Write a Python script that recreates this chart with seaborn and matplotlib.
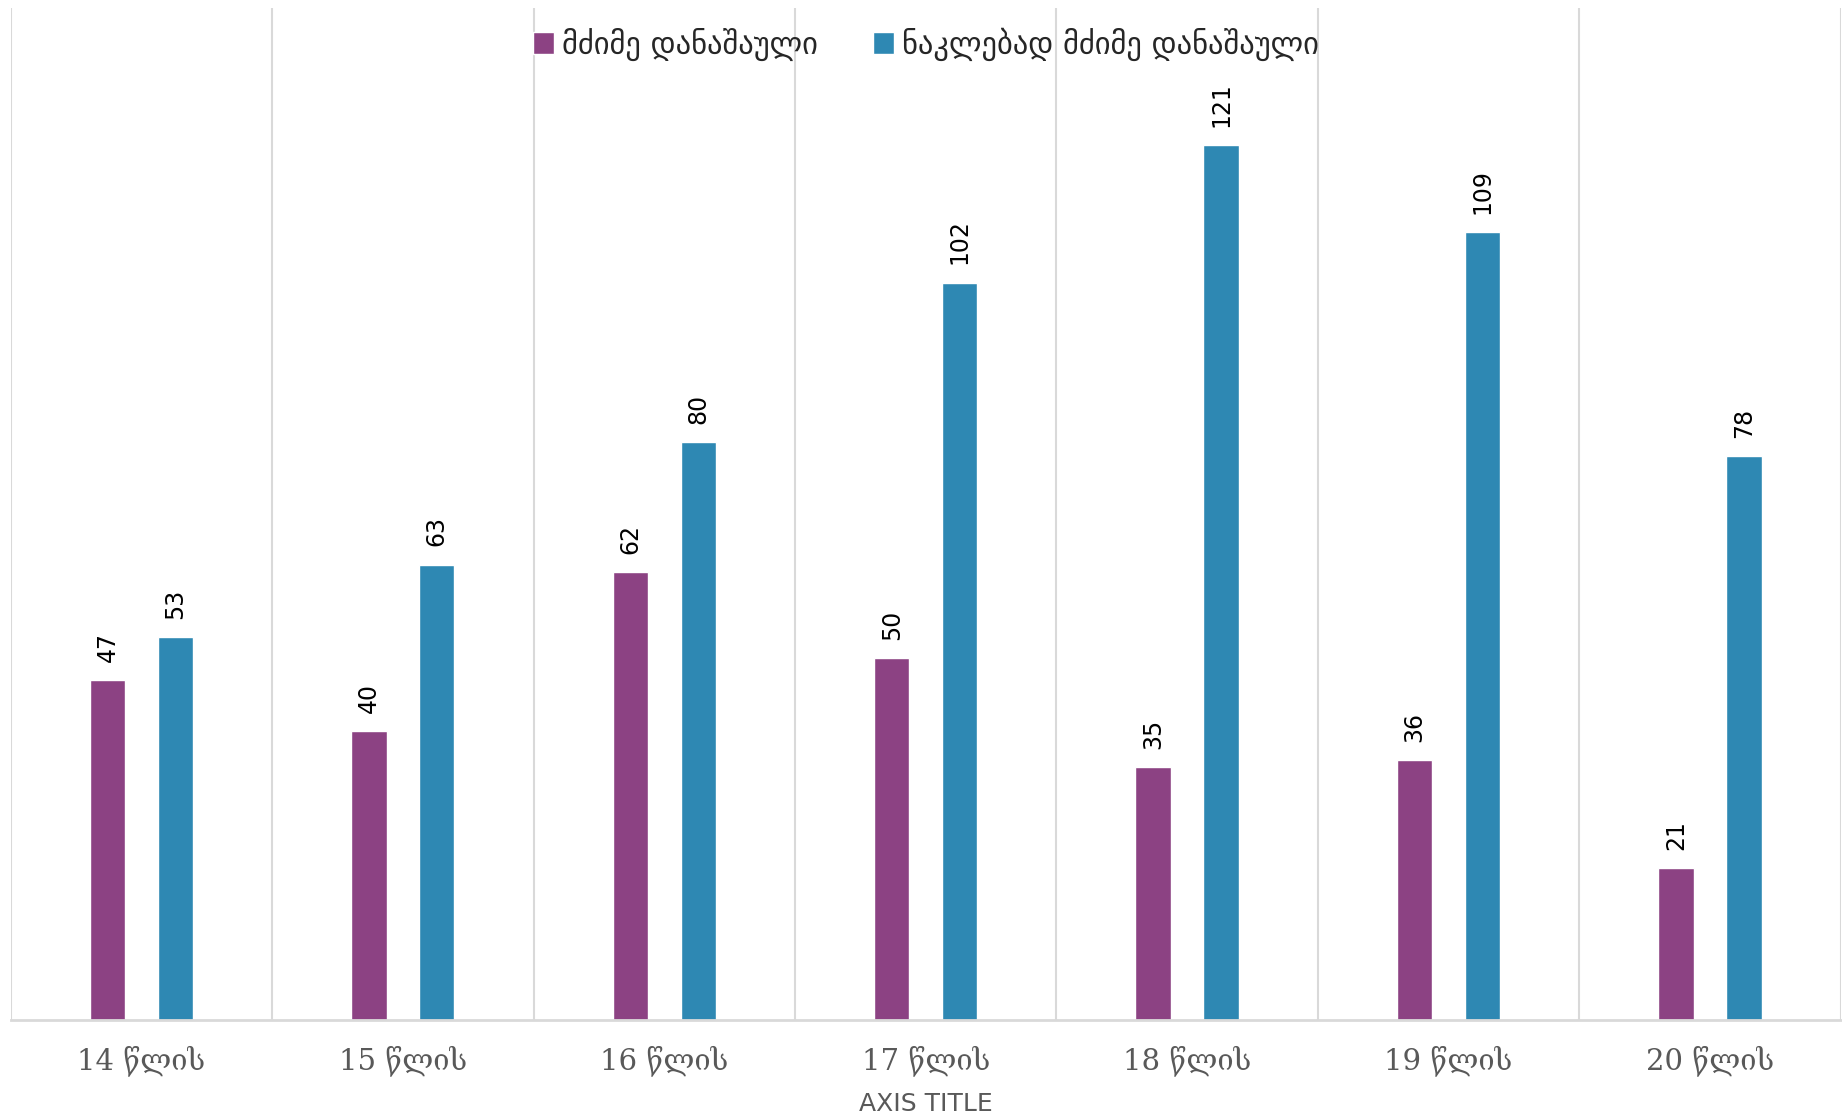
import numpy as np
import matplotlib.pyplot as plt
import seaborn as sns
import pandas as pd

plt.ioff()

# data
ages = ["14 წლის", "15 წლის", "16 წლის", "17 წლის", "18 წლის", "19 წლის", "20 წლის"]
series_names = ["მძიმე დანაშაული", "ნაკლებად მძიმე დანაშაული"]
grave = [47, 40, 62, 50, 35, 36, 21]
less_grave = [53, 63, 80, 102, 121, 109, 78]

df = pd.DataFrame({
    "age": ages * 2,
    "type": [series_names[0]] * len(ages) + [series_names[1]] * len(ages),
    "count": grave + less_grave,
})

sns.set_style("white")
plt.rcParams["font.family"] = ["DejaVu Sans"]

fig = plt.figure(figsize=(18.42, 11.19), dpi=100)
ax = fig.add_axes([0.0058, 0.0885, 0.9935, 0.9045])

palette = {series_names[0]: "#8C4283", series_names[1]: "#2E88B3"}
sns.barplot(data=df, x="age", y="count", hue="type", palette=palette,
            width=0.52, gap=0.48, ax=ax, saturation=1)

for c in ax.containers:
    ax.bar_label(c, rotation=90, padding=13, fontsize=17, color="black")

ax.set_ylim(0, 140)
ax.set_xlim(-0.5, len(ages) - 0.5)
ax.set_yticks([])
ax.set_ylabel("")

# vertical separators between categories
ax.set_xticks(np.arange(-0.5, len(ages), 1), minor=True)
ax.grid(which="minor", axis="x", color="#D9D9D9", linewidth=1.5)
ax.tick_params(axis="x", which="both", length=0)
for s in ["top", "right", "left"]:
    ax.spines[s].set_visible(False)
ax.spines["bottom"].set_color("#D9D9D9")
ax.spines["bottom"].set_linewidth(2)

ax.set_xticks(range(len(ages)))
ax.set_xticklabels(ages, family=["DejaVu Serif", "DejaVu Sans"], fontsize=21, color="#595959")
ax.tick_params(axis="x", pad=18)
ax.set_xlabel("AXIS TITLE", fontsize=18, color="#595959", labelpad=12)

leg = ax.legend(loc="upper center", bbox_to_anchor=(0.5, 1.008), ncol=2, frameon=False,
                fontsize=22, handlelength=0.7, handleheight=0.7, handletextpad=0.25,
                columnspacing=1.8)

fig.savefig("out.png", dpi=100)
